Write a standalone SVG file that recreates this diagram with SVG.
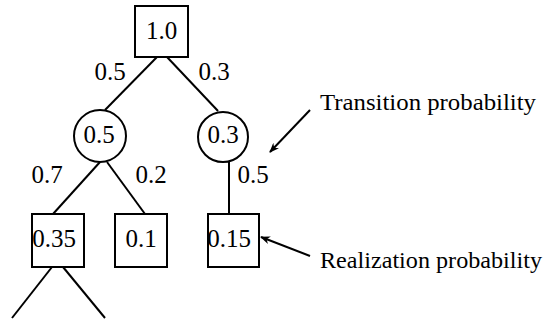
<svg xmlns="http://www.w3.org/2000/svg" width="548" height="323" viewBox="0 0 548 323">
<style>
.n{fill:#fff;stroke:#000;stroke-width:2}
.e{stroke:#000;stroke-width:2;fill:none}
text{font-family:"Liberation Serif","Times New Roman",serif;font-size:25px;fill:#000}
.a{font-size:24px}
.c{text-anchor:middle}
</style>
<defs>
<marker id="ah" markerWidth="10" markerHeight="8" refX="9" refY="4" orient="auto" markerUnits="userSpaceOnUse">
<path d="M0,0 L10,4 L0,8 L3,4 Z" fill="#000"/>
</marker>
</defs>
<rect width="548" height="323" fill="#fff"/>
<g id="connectors">
<line class="e" x1="157" y1="57" x2="105" y2="110"/>
<line class="e" x1="167" y1="57" x2="218" y2="111"/>
<line class="e" x1="100" y1="162" x2="53" y2="214"/>
<line class="e" x1="107" y1="162" x2="145" y2="214"/>
<line class="e" x1="229" y1="162" x2="229" y2="214"/>
<line class="e" x1="52" y1="267" x2="12" y2="318"/>
<line class="e" x1="63" y1="267" x2="105" y2="318"/>
<line class="e" x1="310" y1="110" x2="270" y2="152" marker-end="url(#ah)"/>
<line class="e" x1="310" y1="256" x2="261" y2="237" marker-end="url(#ah)"/>
</g>
<g id="edge-labels">
<text x="110" y="80" class="c">0.5</text>
<text x="214" y="80" class="c">0.3</text>
<text x="47" y="183" class="c">0.7</text>
<text x="151" y="183" class="c">0.2</text>
<text x="253" y="183" class="c">0.5</text>
</g>
<g id="n-root"><rect class="n" x="135" y="6" width="53" height="51"/><text x="161.5" y="39" class="c">1.0</text></g>
<g id="n-c1"><circle class="n" cx="100" cy="136" r="26"/><text x="99" y="143" class="c">0.5</text></g>
<g id="n-c2"><circle class="n" cx="223" cy="137" r="25"/><text x="223" y="143" class="c">0.3</text></g>
<g id="n-b1"><rect class="n" x="32" y="214" width="52" height="53"/><text x="54" y="247" class="c">0.35</text></g>
<g id="n-b2"><rect class="n" x="115" y="214" width="52" height="53"/><text x="141" y="247" class="c">0.1</text></g>
<g id="n-b3"><rect class="n" x="208" y="214" width="51" height="53"/><text x="229" y="247" class="c">0.15</text></g>
<g id="annotations">
<text class="a" x="320" y="110" textLength="216" lengthAdjust="spacingAndGlyphs">Transition probability</text>
<text class="a" x="320" y="268" textLength="222" lengthAdjust="spacingAndGlyphs">Realization probability</text>
</g>
</svg>
